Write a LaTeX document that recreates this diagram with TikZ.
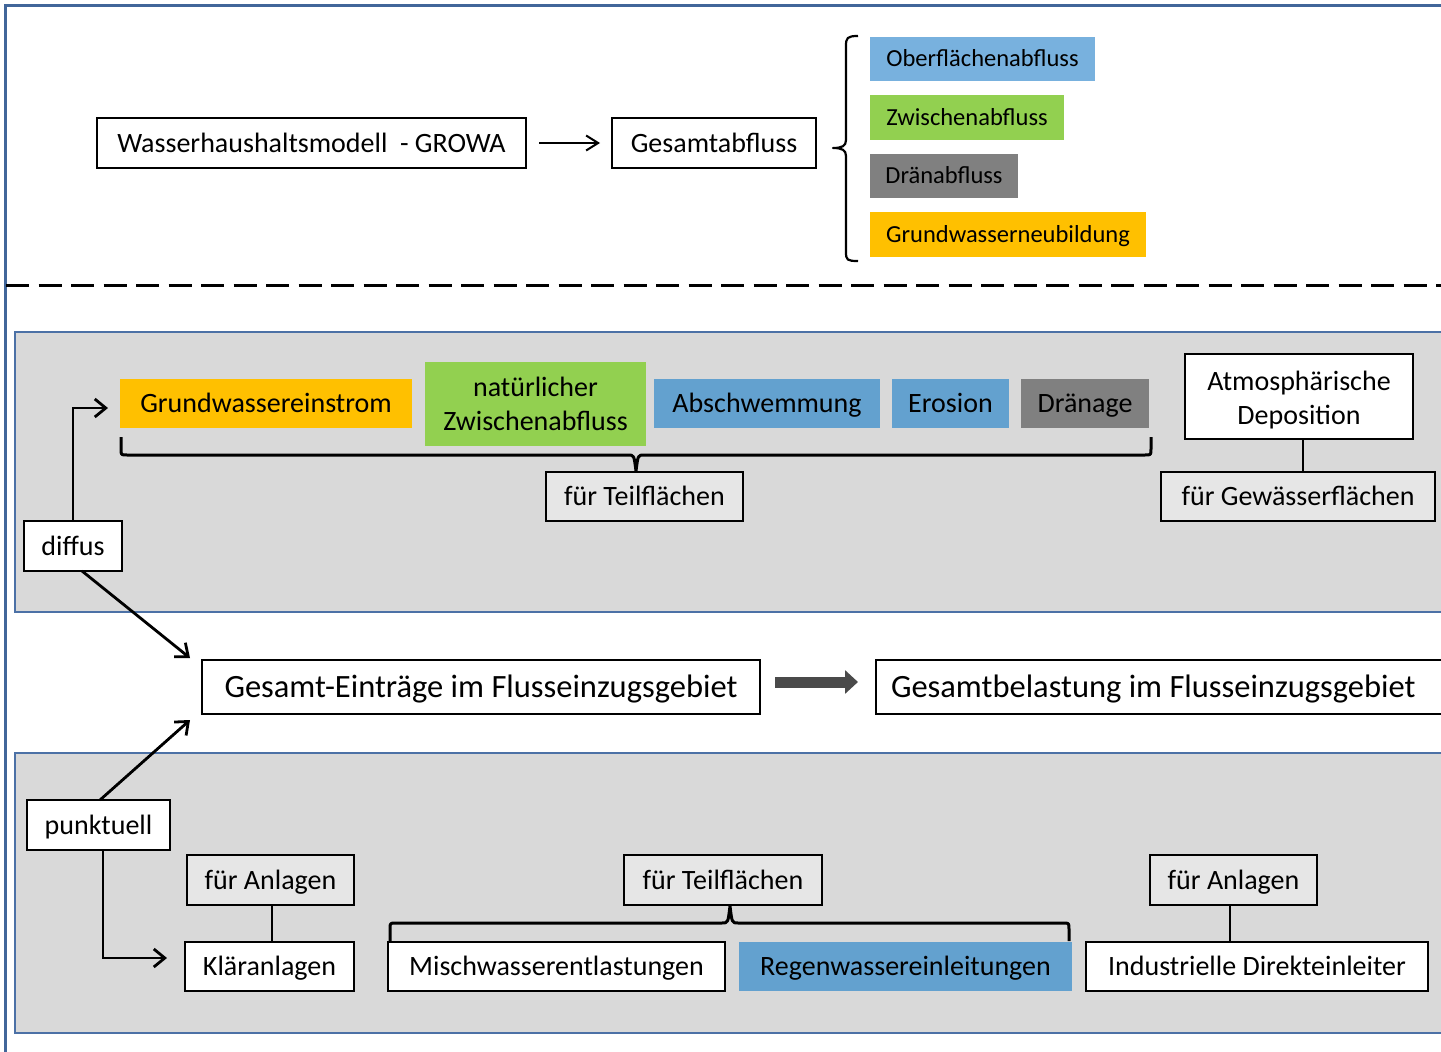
\documentclass[tikz,border=0pt]{standalone}
\usepackage{fontspec}
\setmainfont{Carlito}
\usetikzlibrary{arrows.meta,calc}
\definecolor{frameblue}{HTML}{41669A}
\definecolor{panelblue}{HTML}{4C71A6}
\definecolor{panelgray}{HTML}{D9D9D9}
\definecolor{boxgray}{HTML}{E6E6E6}
\definecolor{cOrange}{HTML}{FFC000}
\definecolor{cGreen}{HTML}{92D050}
\definecolor{cBlueTop}{HTML}{78B1DE}
\definecolor{cBlue}{HTML}{63A1CF}
\definecolor{cGray}{HTML}{808080}
\definecolor{arrowgray}{HTML}{4A4A4A}
\newcommand\fbig{\fontsize{32.5}{36}\selectfont}
\newcommand\fmid{\fontsize{28}{34}\selectfont}
\newcommand\fsmall{\fontsize{24.5}{30}\selectfont}
\tikzset{
  base/.style={inner sep=0pt, outer sep=0pt, align=center, text=black},
  one/.style={text height=18pt, text depth=0pt},
  onesmall/.style={text height=15.8pt, text depth=0pt},
  onebig/.style={text height=20.9pt, text depth=0pt},
  wbox/.style={base, draw=black, line width=2.4pt, fill=white, font=\fmid},
  gbox/.style={base, one, draw=black, line width=2.4pt, fill=boxgray, font=\fmid},
  cbox/.style={base, font=\fmid},
  tbox/.style={base, onesmall, font=\fsmall},
  thinarrow/.style={line width=2pt, -{Straight Barb[length=12pt,width=15pt,line width=2pt]}},
  arr/.style={line width=2.8pt, -{Straight Barb[length=11pt,width=18pt,line width=2.8pt]}},
  plainline/.style={line width=2.8pt},
  bracel/.style={line width=3pt, line join=round},
  panel/.style={draw=panelblue, line width=2pt, fill=panelgray}
}
\begin{document}
\begin{tikzpicture}[x=1pt,y=-1pt]
\clip (0,0) rectangle (1441,1052);
\fill[white] (0,0) rectangle (1441,1052);
% outer frame
\draw[frameblue, line width=3pt] (5,5) rectangle (1470,1080);
% dashed separator
\draw[black, line width=3pt, dash pattern=on 23pt off 9.5pt] (6,285) -- (1441,285);

% ---------- top part ----------
\node[wbox, one, minimum width=429pt, minimum height=50pt] (wasser) at (311.5,143) {Wasserhaushaltsmodell\ \ - GROWA};
\node[wbox, one, minimum width=204pt, minimum height=50pt] (gesabf) at (714,143) {Gesamtabfluss};
\draw[thinarrow] ([xshift=13pt]wasser.east) -- ([xshift=-12pt]gesabf.west);

\node[tbox, fill=cBlueTop, minimum width=225pt, minimum height=44pt] (ober) at (982.5,59) {Oberflächenabfluss};
\node[tbox, fill=cGreen, minimum width=194pt, minimum height=45pt] (zwi) at (967,117.5) {Zwischenabfluss};
\node[tbox, fill=cGray, minimum width=148pt, minimum height=44pt] (draen) at (944,176) {Dränabfluss};
\node[tbox, fill=cOrange, minimum width=276pt, minimum height=45pt] (gwn) at (1008,234.5) {Grundwasserneubildung};
% left brace
\coordinate (tb1) at (858,36);
\coordinate (tb2) at (858,261);
\coordinate (tbt) at (833,148);
\draw[line width=2.2pt, line join=round] (tb1) .. controls (847,36) and (846,38) .. (846,46) -- (846,140)
  .. controls (846,146) and (842,148) .. (tbt) .. controls (842,148) and (846,150) .. (846,156)
  -- (846,252) .. controls (846,260) and (847,261) .. (tb2);

% ---------- diffuse panel ----------
\draw[panel] (15,332) rectangle (1460,612);
\node[cbox, one, fill=cOrange, minimum width=292pt, minimum height=49pt] (gwe) at (266,403.5) {Grundwassereinstrom};
\node[cbox, fill=cGreen, minimum width=221pt, minimum height=84pt] (nzw) at (535.5,404) {natürlicher\\Zwischenabfluss};
\node[cbox, one, fill=cBlue, minimum width=226pt, minimum height=49pt] (absch) at (767,403.5) {Abschwemmung};
\node[cbox, one, fill=cBlue, minimum width=117pt, minimum height=49pt] (ero) at (950.5,403.5) {Erosion};
\node[cbox, one, fill=cGray, minimum width=128pt, minimum height=49pt] (drae) at (1085,403.5) {Dränage};
\node[gbox, minimum width=197pt, minimum height=49pt] (teil1) at (644.5,496.5) {für Teilflächen};
\node[wbox, minimum width=228pt, minimum height=85pt] (atmo) at (1299,396.5) {\rule{0pt}{27pt}Atmosphärische\\Deposition};
\node[gbox, minimum width=274pt, minimum height=49pt] (gew) at (1298,496.5) {für Gewässerflächen};
\node[wbox, one, minimum width=98pt, minimum height=50pt] (diffus) at (73,546) {diffus};
\draw[plainline] (atmo.south -| 1303,0) -- (gew.north -| 1303,0);
% brace under the items
\coordinate (mb1) at (121,437);
\coordinate (mb2) at (1151,437);
\coordinate (mbt) at (636,471);
\draw[bracel] (mb1) -- (121,449) .. controls (121,455) .. (127,455) -- (628,455)
  .. controls (634,455) .. (mbt) .. controls (638,455) .. (644,455) -- (1145,455)
  .. controls (1151,455) .. (1151,449) -- (mb2);
% diffus arrows
\draw[arr] (diffus.north) |- ([xshift=-12pt,yshift=-4.5pt]gwe.west);

% ---------- middle ----------
\node[wbox, onebig, font=\fbig, minimum width=558pt, minimum height=54pt] (ges) at (481,687) {Gesamt-Einträge im Flusseinzugsgebiet};
\node[wbox, onebig, font=\fbig, anchor=west, inner xsep=15pt, minimum height=54pt] (bel) at (876,687) {\makebox[560pt][l]{Gesamtbelastung im Flusseinzugsgebiet}};
\draw[arrowgray, line width=11pt, -{Triangle[length=13pt,width=23pt]}] ([xshift=15pt,yshift=5pt]ges.east) -- ([xshift=-18pt,yshift=5pt]bel.west);
\draw[arr] ([xshift=9pt]diffus.south) -- ([xshift=-12pt,yshift=2pt]ges.north west);

% ---------- point source panel ----------
\draw[panel] (15,753) rectangle (1460,1033);
\node[wbox, one, minimum width=143pt, minimum height=50pt] (punkt) at (98.5,825) {punktuell};
\draw[arr] ([xshift=1.5pt]punkt.north) -- ([xshift=-12pt,yshift=-6pt]ges.south west);
\node[gbox, minimum width=167pt, minimum height=50pt] (anl1) at (270.5,880) {für Anlagen};
\node[wbox, one, minimum width=169pt, minimum height=49pt] (klaer) at (269.5,966.5) {Kläranlagen};
\node[gbox, minimum width=198pt, minimum height=50pt] (teil2) at (723,880) {für Teilflächen};
\node[wbox, one, minimum width=337pt, minimum height=49pt] (misch) at (556.5,966.5) {Mischwasserentlastungen};
\node[cbox, one, fill=cBlue, minimum width=333pt, minimum height=49pt] (regen) at (905.5,966.5) {Regenwassereinleitungen};
\node[gbox, minimum width=167pt, minimum height=50pt] (anl2) at (1233.5,880) {für Anlagen};
\node[wbox, one, minimum width=342pt, minimum height=49pt] (indu) at (1257,966.5) {Industrielle Direkteinleiter};
\draw[plainline] ([xshift=1.5pt]anl1.south) -- ([xshift=1.5pt]anl1.south |- klaer.north);
\draw[plainline] ([xshift=-3.5pt]anl2.south) -- ([xshift=-3.5pt]anl2.south |- indu.north);
\draw[arr] ([xshift=4.5pt]punkt.south) |- ([xshift=-18pt,yshift=8.5pt]klaer.west);
% brace above Misch/Regen
\coordinate (bb1) at (390,941);
\coordinate (bb2) at (1069,941);
\coordinate (bbt) at (730,906);
\draw[bracel] (bb1) -- (390,929) .. controls (390,923) .. (396,923) -- (722,923)
  .. controls (728,923) .. (bbt) .. controls (732,923) .. (738,923) -- (1063,923)
  .. controls (1069,923) .. (1069,929) -- (bb2);
\end{tikzpicture}
\end{document}
